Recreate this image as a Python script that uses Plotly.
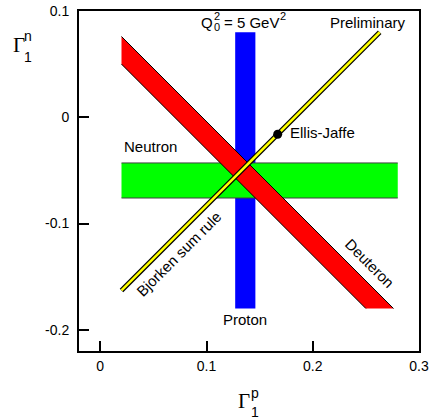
import plotly.graph_objects as go

# Proton constraint: a range of Gamma_1^p, drawn across a span of Gamma_1^n
proton_p = [0.127, 0.146]
proton_n_span = [-0.18, 0.08]

# Neutron constraint: a range of Gamma_1^n, drawn across a span of Gamma_1^p
neutron_n = [-0.076, -0.043]
neutron_p_span = [0.02, 0.28]

# Deuteron constraint: a range of Gamma_1^p + Gamma_1^n
deuteron_sum = [0.070, 0.096]
deuteron_p_start = 0.02
deuteron_n_end = -0.18

# Bjorken sum rule: Gamma_1^p - Gamma_1^n
bjorken_diff = 0.183
bjorken_p_span = [0.02, 0.263]

# Ellis-Jaffe prediction
ellis_jaffe_p = [0.167]
ellis_jaffe_n = [-0.016]

x_ticks = [0, 0.1, 0.2, 0.3]
x_tick_labels = ["0", "0.1", "0.2", "0.3"]
y_ticks = [-0.2, -0.1, 0, 0.1]
y_tick_labels = ["-0.2", "-0.1", "0", "0.1"]

X_RANGE = [-0.02, 0.3]
Y_RANGE = [-0.22, 0.1]

W, H = 430, 419
ML, MR, MT, MB = 79, 11, 11, 68
PW, PH = W - ML - MR, H - MT - MB

SANS = "Liberation Sans, Arial, sans-serif"
SERIF = "Liberation Serif, Times New Roman, serif"


def paper_x(px):
    return (px - ML) / PW


def paper_y(py):
    return (H - MB - py) / PH


fig = go.Figure()

# proton band (vertical)
p0, p1 = proton_p
n0, n1 = proton_n_span
fig.add_trace(go.Scatter(
    x=[p0, p1, p1, p0, p0], y=[n0, n0, n1, n1, n0],
    fill="toself", fillcolor="#0000ff", mode="lines",
    line=dict(width=0), hoverinfo="skip"))

# neutron band (horizontal)
a0, a1 = neutron_p_span
b0, b1 = neutron_n
fig.add_trace(go.Scatter(
    x=[a0, a1, a1, a0, a0], y=[b0, b0, b1, b1, b0],
    fill="toself", fillcolor="#00ff00", mode="lines",
    line=dict(width=0), hoverinfo="skip"))
fig.add_trace(go.Scatter(
    x=[a0, a1, None, a0, a1], y=[b0, b0, None, b1, b1],
    mode="lines", line=dict(color="#404040", width=1), hoverinfo="skip"))

# deuteron band (diagonal, constant Gamma_1^p + Gamma_1^n)
s_lo, s_hi = deuteron_sum
dx = [deuteron_p_start, deuteron_p_start, s_lo - deuteron_n_end, s_hi - deuteron_n_end]
dy = [s_hi - deuteron_p_start, s_lo - deuteron_p_start, deuteron_n_end, deuteron_n_end]
fig.add_trace(go.Scatter(
    x=dx + [dx[0]], y=dy + [dy[0]],
    fill="toself", fillcolor="#ff0000", mode="lines",
    line=dict(width=0), hoverinfo="skip"))
fig.add_trace(go.Scatter(
    x=[dx[1], dx[2], None, dx[0], dx[3]],
    y=[dy[1], dy[2], None, dy[0], dy[3]],
    mode="lines", line=dict(color="black", width=1), hoverinfo="skip"))

# Bjorken sum rule line: black casing with a yellow core
bx = bjorken_p_span
by = [v - bjorken_diff for v in bx]
fig.add_trace(go.Scatter(x=bx, y=by, mode="lines",
                         line=dict(color="black", width=5), hoverinfo="skip"))
fig.add_trace(go.Scatter(x=bx, y=by, mode="lines",
                         line=dict(color="#ffff00", width=2.5), hoverinfo="skip"))

# Ellis-Jaffe point
fig.add_trace(go.Scatter(x=ellis_jaffe_p, y=ellis_jaffe_n, mode="markers",
                         marker=dict(color="black", size=9), hoverinfo="skip"))

label_font = dict(family=SANS, size=15, color="black")
ann = []
ann.append(dict(x=neutron_p_span[0], y=-0.0277, text="Neutron", xanchor="left",
                yanchor="middle", showarrow=False, font=label_font))
ann.append(dict(x=sum(proton_p) / 2, y=-0.190, text="Proton", xanchor="center",
                yanchor="middle", showarrow=False, font=label_font))
ann.append(dict(x=0.2894, y=0.089, text="Preliminary", xanchor="right",
                yanchor="middle", showarrow=False, font=label_font))
ann.append(dict(x=0.177, y=-0.0148, text="Ellis-Jaffe", xanchor="left",
                yanchor="middle", showarrow=False, font=label_font))
ann.append(dict(x=0.254, y=-0.1375, text="Deuteron", textangle=45,
                xanchor="center", yanchor="middle", showarrow=False, font=label_font))
ann.append(dict(x=0.0741, y=-0.1278, text="Bjorken sum rule", textangle=-45,
                xanchor="center", yanchor="middle", showarrow=False, font=label_font))

# Q0^2 = 5 GeV^2 with stacked sub/superscript
small = dict(family=SANS, size=11, color="black")
paper = dict(xref="paper", yref="paper", showarrow=False, borderpad=0, borderwidth=0)
ann.append(dict(x=paper_x(213), y=paper_y(22), text="Q", xanchor="right",
                yanchor="middle", font=label_font, **paper))
ann.append(dict(x=paper_x(216.5), y=paper_y(16), text="2", xanchor="center",
                yanchor="middle", font=small, **paper))
ann.append(dict(x=paper_x(216.5), y=paper_y(27), text="0", xanchor="center",
                yanchor="middle", font=small, **paper))
ann.append(dict(x=paper_x(224), y=paper_y(22), text="= 5 GeV", xanchor="left",
                yanchor="middle", font=label_font, **paper))
ann.append(dict(x=paper_x(282.5), y=paper_y(16), text="2", xanchor="center",
                yanchor="middle", font=small, **paper))

# axis titles: serif Gamma with stacked sans indices
gamma_font = dict(family=SERIF, size=21, color="black")
idx_font = dict(family=SANS, size=14, color="black")
ann.append(dict(x=paper_x(19), y=paper_y(45), text="Γ", xanchor="center",
                yanchor="middle", font=gamma_font, **paper))
ann.append(dict(x=paper_x(28), y=paper_y(36), text="n", xanchor="center",
                yanchor="middle", font=idx_font, **paper))
ann.append(dict(x=paper_x(28), y=paper_y(57), text="1", xanchor="center",
                yanchor="middle", font=idx_font, **paper))
ann.append(dict(x=paper_x(244), y=paper_y(401), text="Γ", xanchor="center",
                yanchor="middle", font=gamma_font, **paper))
ann.append(dict(x=paper_x(255), y=paper_y(393), text="p", xanchor="center",
                yanchor="middle", font=idx_font, **paper))
ann.append(dict(x=paper_x(255), y=paper_y(412), text="1", xanchor="center",
                yanchor="middle", font=idx_font, **paper))

axis_common = dict(
    showline=True, mirror=True, linecolor="black", linewidth=2,
    ticks="inside", ticklen=10, tickwidth=1.5, tickcolor="black",
    showgrid=False, zeroline=False, automargin=False,
    tickfont=dict(family=SANS, size=14, color="black"),
)

fig.update_layout(
    width=W, height=H,
    margin=dict(l=ML, r=MR, t=MT, b=MB, pad=0, autoexpand=False),
    paper_bgcolor="white", plot_bgcolor="white",
    showlegend=False,
    annotations=ann,
    xaxis=dict(range=X_RANGE, tickvals=x_ticks, ticktext=x_tick_labels,
               ticklabelstandoff=1, **axis_common),
    yaxis=dict(range=Y_RANGE, tickvals=y_ticks, ticktext=y_tick_labels,
               ticklabelstandoff=5, **axis_common),
)

fig.write_html("out.html")
